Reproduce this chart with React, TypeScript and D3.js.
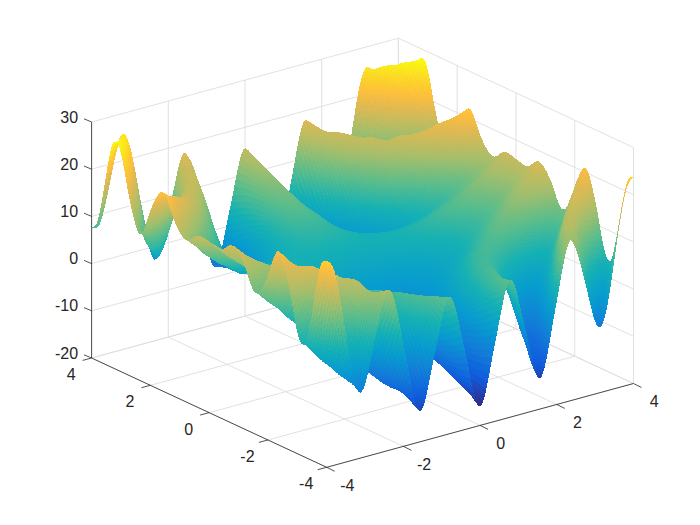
import React, { useEffect, useRef } from 'react';
import * as d3 from 'd3';

// Stations the surface was estimated at, closer together where the ridges crowd
const yStations = [-4, -3.77, -3.53, -3.33, -3.14, -2.95, -2.75, -2.36, -1.96, -1.57, -1.18, -0.79, -0.39, 0, 0.39, 0.79, 1.18, 1.57, 1.96, 2.36, 2.75, 2.95, 3.14, 3.33, 3.53, 3.77, 4];
const xHalf = [0, 0.39, 0.79, 1.18, 1.57, 1.96, 2.36, 2.75, 2.95, 3.14, 3.33, 3.53, 3.77, 4];

// Estimated heights, one row per y station, from x = 0 out to x = 4.
// The picture is mirror-symmetric in x so only one side is listed.
const zHalfRows = [
  [-16, -3.4, 9, -2.2, -13.5, 0.2, 14, 4, -3.3, -6.1, -1.5, 8.9, 20.2, 23.8],
  [-14.7, -4.4, 8.3, 0.8, -11.6, -4.7, 11.8, 10.4, 3.9, -1.8, -3.6, 0.6, 11.9, 21.7],
  [-13.8, -5.2, 7.5, 3.5, -8.1, -7.9, 7.2, 14.7, 10.8, 5.7, 0.8, -1.3, 3.1, 12.8],
  [-13, -5.6, 6.3, 5.6, -5.5, -8.9, 2.6, 14.3, 15, 10.9, 7.1, 2.8, 1.2, 5.5],
  [-12.3, -6, 5.3, 6.6, -2.2, -8.5, -1.5, 11.4, 15.2, 15.6, 12, 8.7, 4.5, 3.7],
  [-11.5, -6.1, 4, 7.2, 0.7, -6.7, -4, 6.9, 12.7, 16, 16.7, 14.3, 10.5, 7],
  [-10.7, -6.5, 2.7, 7.2, 3.3, -3.6, -4.9, 2.6, 8, 13.2, 16.6, 18, 16.3, 13.5],
  [-9.2, -6.2, 0.6, 6, 6.4, 2.4, -1.8, -1.4, 1.1, 4.6, 9, 13.6, 18.1, 21],
  [-7.6, -6, -1.2, 3.5, 6.6, 6.7, 4.4, 2.3, 1.8, 2.3, 3.6, 6, 9.8, 14.2],
  [-6.1, -5, -2.2, 1.4, 4.9, 7.1, 8.2, 8.1, 7.8, 7.6, 7.3, 7.8, 8.3, 9.9],
  [-4.6, -4.1, -2.6, -0.4, 2.5, 5, 7.9, 10.1, 11, 11.9, 12.6, 13.2, 14, 14.9],
  [-3.1, -2.8, -2, -0.7, 1.1, 3.1, 5.6, 8.2, 9.6, 11.1, 12.5, 14, 15.8, 17.7],
  [-1.5, -1.4, -0.9, 0, 1.2, 2.6, 4.6, 6.7, 7.9, 9.1, 10.4, 11.9, 13.7, 15.6],
  [0, 0.2, 0.6, 1.4, 2.5, 3.8, 5.6, 7.6, 8.7, 9.9, 11.1, 12.5, 14.2, 16],
  [1.5, 1.7, 2.1, 2.8, 3.8, 5, 6.7, 8.5, 9.5, 10.7, 11.8, 13.1, 14.7, 16.4],
  [3.1, 3.1, 3.2, 3.5, 3.9, 4.5, 5.6, 7, 7.8, 8.7, 9.8, 11, 12.6, 14.3],
  [4.6, 4.4, 3.8, 3.2, 2.5, 2.6, 3.3, 5.1, 6.4, 8, 9.6, 11.8, 14.4, 17.1],
  [6.1, 5.3, 3.4, 1.4, 0.1, 0.5, 3, 7.1, 9.6, 12.3, 14.9, 17.2, 20.1, 22.1],
  [7.6, 6.3, 2.4, -0.7, -1.6, 0.9, 6.8, 12.9, 15.6, 17.5, 18.6, 19, 18.6, 17.8],
  [9.2, 6.5, 0.6, -3.2, -1.4, 5.2, 13, 16.6, 16.3, 15.2, 13.2, 11.4, 10.3, 11],
  [10.7, 6.8, -1.5, -4.4, 1.7, 11.2, 16.1, 12.6, 9.4, 6.6, 5.6, 7, 12.1, 18.5],
  [11.5, 6.4, -2.8, -4.4, 4.3, 14.3, 15.2, 8.3, 4.7, 3.8, 5.5, 10.7, 17.9, 25],
  [12.3, 6.3, -4.1, -3.8, 7.2, 16.1, 12.7, 3.8, 2.2, 4.3, 10.2, 16.3, 23.9, 28.1],
  [13, 5.9, -5.1, -2.8, 10.5, 16.5, 8.6, 0.9, 2.4, 8.9, 15.1, 22.2, 27.2, 26.5],
  [13.8, 5.5, -6.3, -0.7, 13.1, 15.5, 4, 0.5, 6.6, 14.1, 21.4, 26.3, 25.3, 19.2],
  [14.7, 4.7, -7.1, 2, 16.6, 12.3, -0.6, 4.8, 13.5, 21.6, 25.8, 24.4, 16.5, 10.3],
  [15.6, 3.8, -7.8, 5, 18.1, 7.4, -2.8, 11.2, 20.7, 25.5, 23.7, 16.1, 8.2, 7.6],
];

const xTicks = [-4, -2, 0, 2, 4];
const yTicks = [-4, -2, 0, 2, 4];
const zTicks = [-20, -10, 0, 10, 20, 30];

// parula
const parulaPos = [0, 7, 14, 21, 28, 35, 42, 49, 53, 56, 63];
const parulaHex = ['#352A87', '#0F5CDD', '#127DD8', '#079CCF', '#15B1B4', '#59BD8C', '#A5BE6B', '#E1B952', '#FDBE3D', '#FCCE2E', '#F9FB0E'];

const CELLS = 200;
const TANGENT = 1.15;

const xStations = [...xHalf.slice(1).reverse().map(d => -d), ...xHalf];
const zRows = zHalfRows.map(r => [...r.slice(1).reverse(), ...r]);

// cubic hermite through uneven stations, so the surface is shaded smoothly between them
function smooth(s: number[], p: number[], v: number) {
  const last = s.length - 1;
  const i = Math.min(Math.max(d3.bisectRight(s, v) - 1, 0), last - 1);
  const h = s[i + 1] - s[i];
  const t = (v - s[i]) / h;
  const tan = (k: number) => {
    if (k === 0) return (0.5 * (p[1] - p[0])) / (s[1] - s[0]);
    if (k === last) return (0.5 * (p[k] - p[k - 1])) / (s[k] - s[k - 1]);
    return (TANGENT * (p[k + 1] - p[k - 1])) / (s[k + 1] - s[k - 1]);
  };
  const t2 = t * t;
  const t3 = t2 * t;
  return (2 * t3 - 3 * t2 + 1) * p[i] + (t3 - 2 * t2 + t) * h * tan(i) + (-2 * t3 + 3 * t2) * p[i + 1] + (t3 - t2) * h * tan(i + 1);
}

const App: React.FC = () => {
  const svgRef = useRef<SVGSVGElement | null>(null);

  useEffect(() => {
    if (!svgRef.current) return;
    const svg = d3.select(svgRef.current);
    svg.selectAll('*').remove();

    // Axis box corners on the page
    const a = d3.scaleLinear().domain([-4, 4]).range([0, 1]);
    const zPx = d3.scaleLinear().domain([-20, 30]).range([0, 236]);
    const project = (x: number, y: number, z: number): [number, number] => [
      326.7 + a(x) * 306.8 - a(y) * 235.1,
      467.3 - a(x) * 83.8 - a(y) * 109.3 - zPx(z),
    ];
    const seg = (g: any, p: [number, number], q: [number, number], color: string, w: number) =>
      g.append('line').attr('x1', p[0]).attr('y1', p[1]).attr('x2', q[0]).attr('y2', q[1]).attr('stroke', color).attr('stroke-width', w);

    // Grid on the floor and the two back walls
    const grid = svg.append('g');
    const gridColor = '#dedede';
    xTicks.forEach(x => {
      seg(grid, project(x, -4, -20), project(x, 4, -20), gridColor, 0.9);
      seg(grid, project(x, 4, -20), project(x, 4, 30), gridColor, 0.9);
    });
    yTicks.forEach(y => {
      seg(grid, project(-4, y, -20), project(4, y, -20), gridColor, 0.9);
      seg(grid, project(4, y, -20), project(4, y, 30), gridColor, 0.9);
    });
    zTicks.forEach(z => {
      seg(grid, project(-4, 4, z), project(4, 4, z), gridColor, 0.9);
      seg(grid, project(4, 4, z), project(4, -4, z), gridColor, 0.9);
    });

    // Colour map
    const parula = d3.scaleLinear<string>().domain(parulaPos.map(d => d / 63)).range(parulaHex).interpolate(d3.interpolateRgb);
    const zMin = d3.min(zRows, r => d3.min(r)!)!;
    const zMax = d3.max(zRows, r => d3.max(r)!)!;
    const zNorm = d3.scaleLinear().domain([zMin, zMax]).range([0, 1]).clamp(true);

    // Fine mesh for the shading
    const mesh = d3.scaleLinear().domain([0, CELLS]).range([-4, 4]);
    const pts: [number, number][][] = [];
    const zs: number[][] = [];
    for (let j = 0; j <= CELLS; j++) {
      pts.push([]);
      zs.push([]);
    }
    for (let i = 0; i <= CELLS; i++) {
      const col = zRows.map(r => smooth(xStations, r, mesh(i)));
      for (let j = 0; j <= CELLS; j++) {
        const z = smooth(yStations, col, mesh(j));
        zs[j][i] = z;
        pts[j][i] = project(mesh(i), mesh(j), z);
      }
    }

    // Surface, far cells first. No strokes: hard edges keep neighbouring cells from striping
    const surf = svg.append('g').attr('shape-rendering', 'crispEdges');
    for (let j = CELLS - 1; j >= 0; j--) {
      for (let i = CELLS - 1; i >= 0; i--) {
        const q = [pts[j][i], pts[j][i + 1], pts[j + 1][i + 1], pts[j + 1][i]];
        const c = parula(zNorm((zs[j][i] + zs[j][i + 1] + zs[j + 1][i + 1] + zs[j + 1][i]) / 4));
        surf
          .append('path')
          .attr('d', 'M' + q.map(p => p[0].toFixed(2) + ',' + p[1].toFixed(2)).join('L') + 'Z')
          .attr('fill', c);
      }
    }

    // Axes
    const axes = svg.append('g');
    const dark = '#262626';
    seg(axes, project(-4, 4, -20), project(-4, 4, 30), dark, 0.8);
    seg(axes, project(-4, 4, -20), project(-4, -4, -20), dark, 0.8);
    seg(axes, project(-4, -4, -20), project(4, -4, -20), dark, 0.8);

    const label = (p: [number, number], anchor: string, text: number) =>
      axes
        .append('text')
        .attr('x', p[0])
        .attr('y', p[1] + 5.5)
        .attr('text-anchor', anchor)
        .attr('font-family', '"Liberation Sans", Arial, sans-serif')
        .attr('font-size', 16)
        .attr('fill', dark)
        .text(String(text));

    xTicks.forEach(x => {
      const p = project(x, -4, -20);
      seg(axes, p, [p[0] + 8, p[1] + 4], dark, 0.8);
      label([p[0] + 20.6, p[1] + 18.2], 'middle', x);
    });
    yTicks.forEach(y => {
      const p = project(-4, y, -20);
      seg(axes, p, [p[0] - 9, p[1] + 2.4], dark, 0.8);
      label([p[0] - 20.5, p[1] + 16.5], 'middle', y);
    });
    zTicks.forEach(z => {
      const p = project(-4, 4, z);
      seg(axes, p, [p[0] - 7.6, p[1] - 3.2], dark, 0.8);
      label([p[0] - 13.5, p[1] - 5], 'end', z);
    });
  }, []);

  return <svg ref={svgRef} width={700} height={525} style={{ position: 'absolute', left: 0, top: 0, background: '#fff' }} />;
};

export default App;
